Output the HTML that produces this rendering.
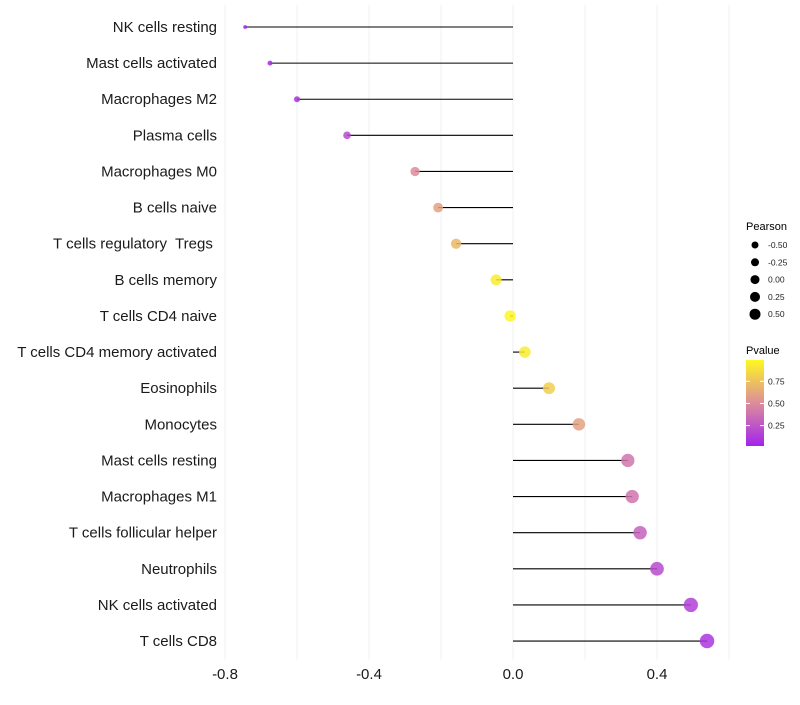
<!DOCTYPE html>
<html><head><meta charset="utf-8"><style>
body{margin:0;background:#fff;font-family:"Liberation Sans",sans-serif}
svg text{font-family:"Liberation Sans",sans-serif;white-space:pre}
</style></head><body>
<svg id="chart" width="800" height="700"></svg>
<script>
const categories=["NK cells resting","Mast cells activated","Macrophages M2","Plasma cells","Macrophages M0","B cells naive","T cells regulatory  Tregs ","B cells memory","T cells CD4 naive","T cells CD4 memory activated","Eosinophils","Monocytes","Mast cells resting","Macrophages M1","T cells follicular helper","Neutrophils","NK cells activated","T cells CD8"];
const pearson=[-0.744,-0.675,-0.6,-0.461,-0.272,-0.208,-0.158,-0.047,-0.008,0.033,0.1,0.183,0.319,0.331,0.353,0.4,0.494,0.539];
const pvalue=[0.02,0.05,0.08,0.2,0.5,0.6,0.7,0.93,0.98,0.93,0.8,0.6,0.4,0.4,0.3,0.2,0.15,0.1];
const xTicks=[-0.8,-0.4,0.0,0.4];
const xTickLabels=["-0.8","-0.4","0.0","0.4"];
const gridVals=[-0.8,-0.6,-0.4,-0.2,0,0.2,0.4,0.6];
const sizeLegend=[-0.5,-0.25,0,0.25,0.5];
const sizeLegendLabels=["-0.50","-0.25","0.00","0.25","0.50"];
const colorLegend=[0.25,0.5,0.75];

const NS="http://www.w3.org/2000/svg";
const svg=document.getElementById('chart');
const X=v=>513+v*360;
const Y=i=>27+i*36.12;
const R=v=>Math.sqrt(Math.max(3,32+38*v));
function lerp(a,b,t){return a.map((x,i)=>Math.round(x+(b[i]-x)*t));}
function col(p){const s0=[160,32,240],s1=[220,140,156],s2=[255,250,30];
 const c=p<0.5?lerp(s0,s1,p/0.5):lerp(s1,s2,(p-0.5)/0.5);return `rgb(${c})`;}
function mk(tag,attrs,parent){const e=document.createElementNS(NS,tag);for(const k in attrs)e.setAttribute(k,attrs[k]);(parent||svg).appendChild(e);return e;}

gridVals.forEach(v=>{const l=mk('line',{x1:X(v),x2:X(v),y1:5,y2:660,stroke:'#f2f2f2','stroke-width':1});

});

categories.forEach((c,i)=>{
 const t=mk('text',{x:217,y:Y(i)+5,'text-anchor':'end','font-size':15,fill:'#1a1a1a'});t.textContent=c;
 
 
 const l=mk('line',{x1:X(0),x2:X(pearson[i]),y1:Y(i),y2:Y(i),stroke:'#000','stroke-width':1.1});
 
 
 const d=mk('circle',{cx:X(pearson[i]),cy:Y(i),r:R(pearson[i]),fill:col(pvalue[i]),'fill-opacity':0.85});
 
 
});

xTicks.forEach((v,i)=>{const t=mk('text',{x:X(v),y:679,'text-anchor':'middle','font-size':15,fill:'#1a1a1a'});t.textContent=xTickLabels[i];
 
 });

const lt=mk('text',{x:746,y:230,'font-size':11,fill:'#000'});lt.textContent='Pearson';


sizeLegend.forEach((v,i)=>{const y=245+i*17.3;
 const c=mk('circle',{cx:755,cy:y,r:3.5+2*(v+0.5),fill:'#000'});
 
 
 const t=mk('text',{x:768,y:y+3,'font-size':8.5,fill:'#222'});t.textContent=sizeLegendLabels[i];
 
 });

const pt=mk('text',{x:746,y:354,'font-size':11,fill:'#000'});pt.textContent='Pvalue';


const defs=mk('defs',{});const g=mk('linearGradient',{id:'pg',x1:0,y1:1,x2:0,y2:0},defs);
[0,0.25,0.5,0.75,1].forEach(o=>mk('stop',{offset:o,'stop-color':col(0.02+o*0.97)},g));
const bar=mk('rect',{x:746,y:360,width:18,height:86,fill:'url(#pg)'});


const PY=p=>446-(p-0.02)/0.97*86;
colorLegend.forEach(p=>{const y=PY(p);
 mk('line',{x1:746,x2:750,y1:y,y2:y,stroke:'#fff','stroke-width':1});mk('line',{x1:760,x2:764,y1:y,y2:y,stroke:'#fff','stroke-width':1});
 const t=mk('text',{x:768,y:y+3,'font-size':8.5,fill:'#222'});t.textContent=p.toFixed(2);
 
 });
</script>
</body></html>
